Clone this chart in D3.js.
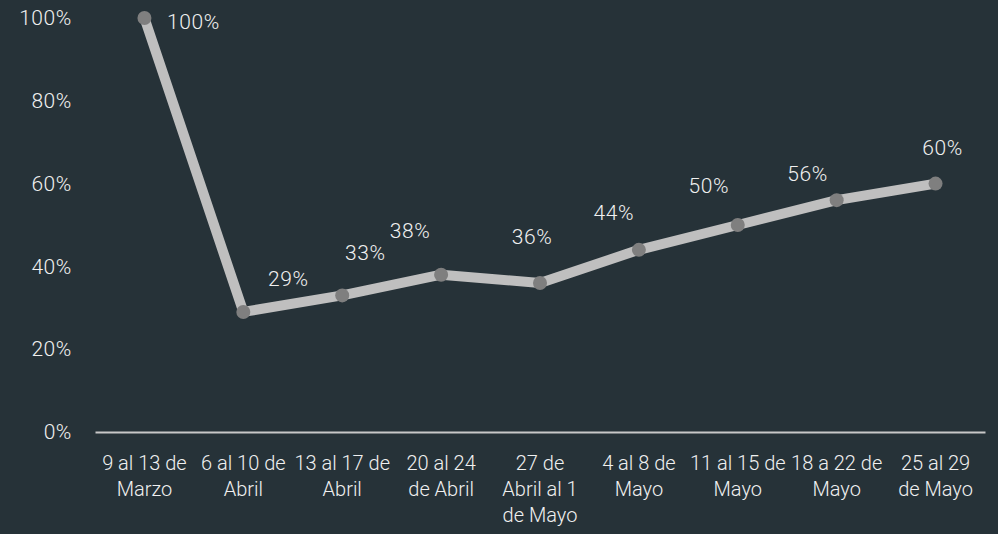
<!DOCTYPE html>
<html>
<head>
<meta charset="utf-8">
<script src="https://cdn.jsdelivr.net/npm/d3@7"></script>
<style>
  body { margin: 0; background: #263238; }
  svg { display: block; font-family: "Roboto", "Open Sans", sans-serif; font-weight: 300; }
</style>
</head>
<body>
<svg id="chart"></svg>
<script>
// data
var weeks = [
    ["9 al 13 de", "Marzo"],
    ["6 al 10 de", "Abril"],
    ["13 al 17 de", "Abril"],
    ["20 al 24", "de Abril"],
    ["27 de", "Abril al 1", "de Mayo"],
    ["4 al 8 de", "Mayo"],
    ["11 al 15 de", "Mayo"],
    ["18 a 22 de", "Mayo"],
    ["25 al 29", "de Mayo"]
]
var values = [100, 29, 33, 38, 36, 44, 50, 56, 60]
var yTicks = [0, 20, 40, 60, 80, 100]

// label offsets from each point (layout only)
var labelOffsets = [[49, 4], [45, -33], [23, -42], [-31, -44], [-8, -46], [-25, -37], [-29, -39], [-29, -26], [7, -36]]

var dimensions = {
    width: 998,
    height: 534,
    margin: { top: 18, bottom: 102, right: 13, left: 95 }
}

var svg = d3.select("#chart")
    .attr("width", dimensions.width)
    .attr("height", dimensions.height)

svg.append("rect")
    .attr("width", dimensions.width)
    .attr("height", dimensions.height)
    .attr("fill", "#263238")

var xScale = d3.scaleBand()
    .domain(d3.range(values.length))
    .range([dimensions.margin.left, dimensions.width - dimensions.margin.right])

var yScale = d3.scaleLinear()
    .domain([0, 100])
    .range([dimensions.height - dimensions.margin.bottom, dimensions.margin.top])

var cx = i => xScale(i) + xScale.bandwidth() / 2

// y axis labels
var yAxisGen = d3.axisLeft(yScale)
    .tickValues(yTicks)
    .tickFormat(d => d + "%")
    .tickSize(0)
    .tickPadding(0)
var yAxis = svg.append("g")
    .attr("transform", "translate(72,0)")
    .call(yAxisGen)
yAxis.select(".domain").remove()
yAxis.selectAll("text")
    .attr("fill", "#f0f0f0")
    .style("font-size", "21px")
    .style("letter-spacing", "0.6px")
    .style("font-family", "Roboto, sans-serif")
    .style("font-weight", 300)

// x axis
var xAxisGen = d3.axisBottom(xScale).tickSize(0).tickFormat("")
var xAxis = svg.append("g")
    .attr("transform", `translate(0,${yScale(0)})`)
    .call(xAxisGen)
xAxis.select(".domain")
    .attr("stroke", "#c8c8c8")
    .attr("stroke-width", 2)

var xLabels = svg.append("g")
    .selectAll("text")
    .data(weeks)
    .enter()
    .append("text")
    .attr("text-anchor", "middle")
    .attr("x", (d, i) => cx(i))
    .attr("y", yScale(0) + 38)
    .attr("fill", "#f0f0f0")
    .style("font-size", "20px")
xLabels.selectAll("tspan")
    .data(d => d)
    .enter()
    .append("tspan")
    .attr("x", function () { return d3.select(this.parentNode).attr("x") })
    .attr("dy", (d, i) => i === 0 ? 0 : 26)
    .text(d => d)

// line
var line = d3.line()
    .x((d, i) => cx(i))
    .y(d => yScale(d))

svg.append("path")
    .datum(values)
    .attr("d", line)
    .attr("fill", "none")
    .attr("stroke", "#bfbfbf")
    .attr("stroke-width", 10)
    .attr("stroke-linejoin", "round")

svg.append("g")
    .selectAll("circle")
    .data(values)
    .enter()
    .append("circle")
    .attr("cx", (d, i) => cx(i))
    .attr("cy", d => yScale(d))
    .attr("r", 7)
    .attr("fill", "#7f7f7f")

// value labels
svg.append("g")
    .selectAll("text")
    .data(values)
    .enter()
    .append("text")
    .attr("text-anchor", "middle")
    .attr("dominant-baseline", "central")
    .attr("x", (d, i) => cx(i) + labelOffsets[i][0])
    .attr("y", (d, i) => yScale(d) + labelOffsets[i][1])
    .attr("fill", "#f0f0f0")
    .style("font-size", "21px")
    .style("letter-spacing", "0.6px")
    .text(d => d + "%")
</script>
</body>
</html>
